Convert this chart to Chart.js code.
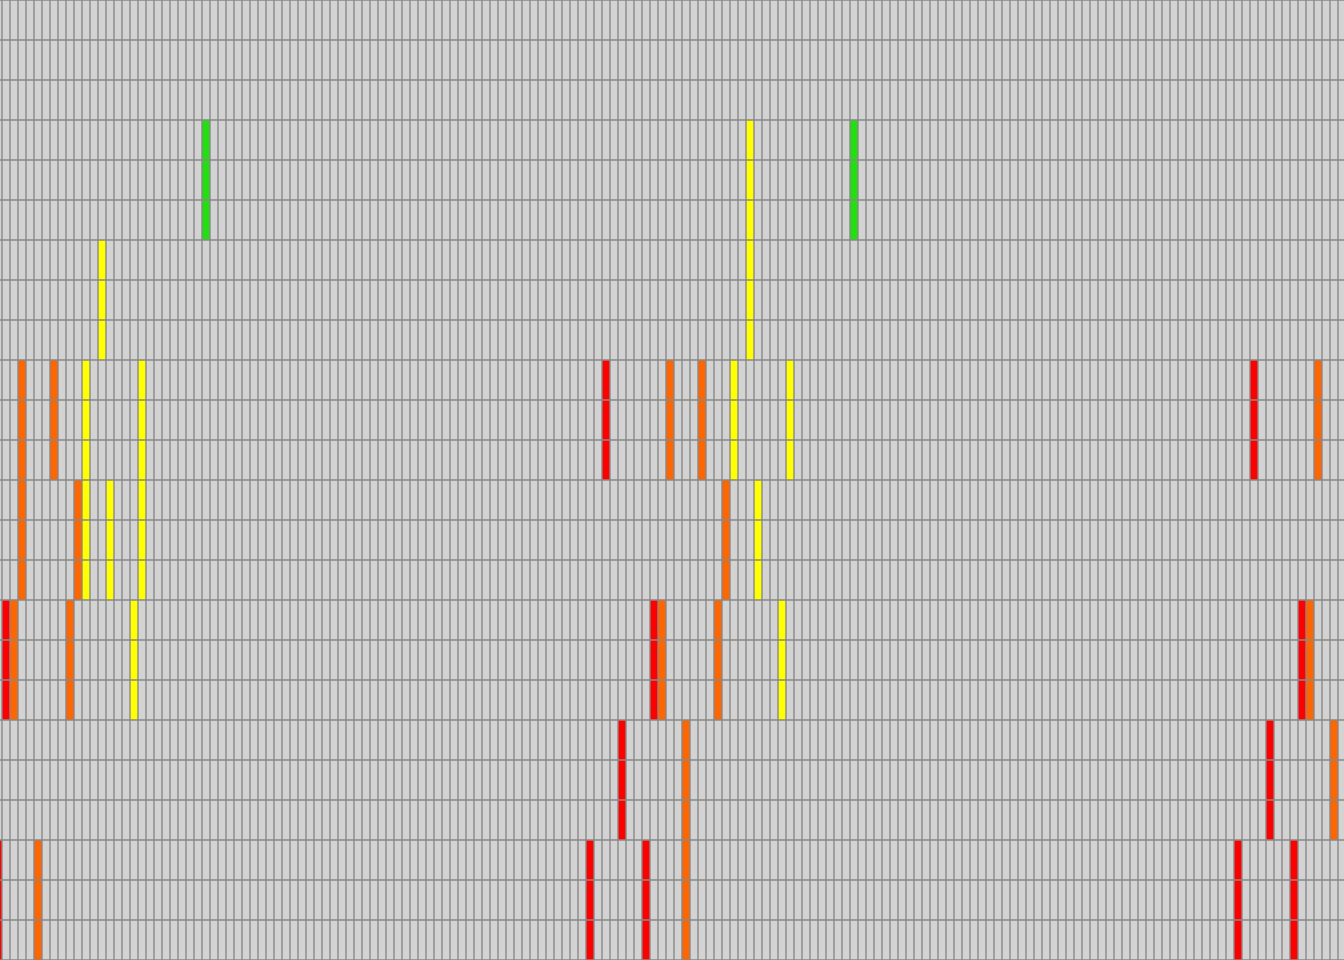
<!DOCTYPE html>
<html>
<head>
<meta charset="utf-8">
<script src="https://cdn.jsdelivr.net/npm/chart.js@4/dist/chart.umd.min.js"></script>
<style>
  html, body { margin: 0; padding: 0; background: #d3d3d3; overflow: hidden; }
  #wrap { width: 1344px; height: 960px; }
</style>
</head>
<body>
<div id="wrap"><canvas id="c" width="1344" height="960"></canvas></div>
<script>
// Column indices shown (first and last are partly cut off)
const firstColumn = -1;
const lastColumn = 167;
const rowGroups = 8;        // 8 bands of 3 rows each, band 0 at the top
const rowsPerGroup = 3;

// Coloured cells: [column, band]
const redCells = [[-1,7],[0,5],[73,7],[75,3],[77,6],[80,7],[81,5],[154,7],[156,3],[158,6],[161,7],[162,5]];
const orangeCells = [[1,5],[2,3],[2,4],[4,7],[6,3],[8,5],[9,4],[82,5],[83,3],[85,6],[85,7],[87,3],[89,5],[90,4],[163,5],[164,3],[166,6]];
const yellowCells = [[12,2],[10,3],[17,3],[10,4],[13,4],[17,4],[16,5],[93,1],[93,2],[91,3],[98,3],[94,4],[97,5]];
const greenCells = [[25,1],[106,1]];

const colors = { red: '#ff0000', orange: '#ff6600', yellow: '#ffff00', green: '#22e010', empty: '#d3d3d3' };

const columns = [];
for (let c = firstColumn; c <= lastColumn; c++) columns.push(c);

const cellColor = {};
[[redCells, colors.red], [orangeCells, colors.orange], [yellowCells, colors.yellow], [greenCells, colors.green]]
  .forEach(([cells, col]) => cells.forEach(([c, g]) => { cellColor[c + ',' + g] = col; }));

const totalRows = rowGroups * rowsPerGroup;
const datasets = [];
for (let i = 0; i < totalRows; i++) {
  const rowFromTop = totalRows - 1 - i;
  const band = Math.floor(rowFromTop / rowsPerGroup);
  datasets.push({
    data: columns.map(c => ({ x: c, y: 1 })),
    backgroundColor: columns.map(c => cellColor[c + ',' + band] || colors.empty),
    borderColor: '#888888',
    borderWidth: 1,
    borderSkipped: false,
    barPercentage: 1,
    categoryPercentage: 1
  });
}

new Chart(document.getElementById('c'), {
  type: 'bar',
  data: { datasets },
  options: {
    responsive: false,
    animation: false,
    devicePixelRatio: 1,
    layout: { padding: 0 },
    plugins: { legend: { display: false }, tooltip: { enabled: false } },
    scales: {
      x: { type: 'linear', min: -0.75, max: 167.25, offset: false, stacked: true, display: false, grid: { display: false } },
      y: { min: 0, max: totalRows, stacked: true, display: false, grid: { display: false } }
    }
  }
});
</script>
</body>
</html>
